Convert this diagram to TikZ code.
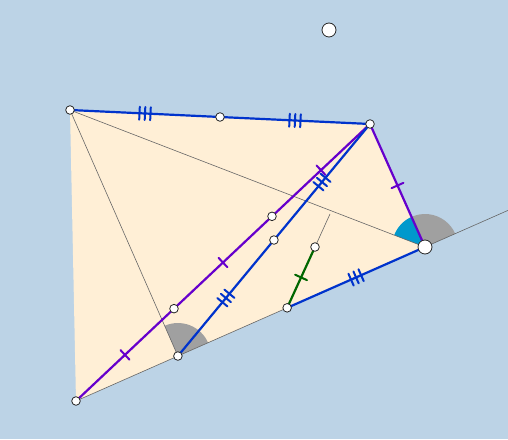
\documentclass[tikz,border=0pt]{standalone}
\usetikzlibrary{calc,decorations.markings}
\definecolor{sky}{RGB}{188,211,230}
\definecolor{paper}{RGB}{255,239,214}
\definecolor{segblue}{RGB}{0,51,204}
\definecolor{segviolet}{RGB}{102,0,204}
\definecolor{seggreen}{RGB}{0,102,0}
\definecolor{anglecyan}{RGB}{0,153,204}
\definecolor{anglegray}{RGB}{160,160,160}
\tikzset{
  side/.style={line width=2.2pt,line cap=round},
  guide/.style={black!60,line width=.6pt},
  dot/.style={fill=white,draw=black!85,line width=.8pt},
  tickone/.style={postaction={decorate,decoration={markings,
    mark=at position .5 with {\draw[line width=2pt] (0,-6.5pt) -- (0,6.5pt);}}}},
  tickthree/.style={postaction={decorate,decoration={markings,
    mark=at position .5 with {\foreach \s in {-5.5,0,5.5}
      \draw[line width=2pt] (\s pt,-6.5pt) -- (\s pt,6.5pt);}}}},
}
% sector: colour, vertex, first arm, second arm
\newcommand{\sector}[4]{%
  \fill[#1] let \p1=($(#3)-(#2)$), \p2=($(#4)-(#2)$),
    \n1={atan2(\y1,\x1)}, \n2={atan2(\y2,\x2)} in
    (#2) -- +(\n1:33pt) arc[start angle=\n1,end angle=\n2,radius=33pt] -- cycle;
}

\begin{document}
\begin{tikzpicture}[x=1pt,y=1pt]
  \fill[sky] (0,0) rectangle (508,439);
  \useasboundingbox (0,0) rectangle (508,439);
  \clip (0,0) rectangle (508,439);

  \coordinate (A)  at (70,329);
  \coordinate (B)  at (370,315);
  \coordinate (C)  at (425,192);
  \coordinate (D)  at (76,38);
  \coordinate (P)  at (329,409);
  \coordinate (M)  at ($(A)!.5!(B)$);
  \coordinate (E)  at ($(D)!.292!(C)$);
  \coordinate (F)  at ($(D)!.605!(C)$);
  \coordinate (Cx) at ($(D)!1.3!(C)$);
  \coordinate (T1) at ($(D)!1/3!(B)$);
  \coordinate (T2) at ($(D)!2/3!(B)$);
  \coordinate (N)  at ($(E)!.5!(B)$);
  \coordinate (G)  at (315,192);
  \coordinate (H)  at (330,225);

  % QUADRILATERAL
  \fill[paper] (A) -- (B) -- (C) -- (D) -- cycle;

  % ANGLES
  \sector{anglegray}{E}{C}{A}
  \sector{anglegray}{C}{Cx}{B}
  \sector{anglecyan}{C}{B}{A}

  % GUIDES
  \draw[guide] (A) -- (C);
  \draw[guide] (A) -- (E);
  \draw[guide] (D) -- (Cx);
  \draw[guide] (G) -- (H);

  % SIDES
  \draw[side,segblue,tickthree] (A) -- (M);
  \draw[side,segblue,tickthree] (M) -- (B);
  \draw[side,segviolet,tickone] (B) -- (C);
  \draw[side,segviolet,tickone] (D) -- (T1);
  \draw[side,segviolet,tickone] (T1) -- (T2);
  \draw[side,segviolet,tickone] (T2) -- (B);
  \draw[side,segblue,tickthree] (E) -- (N);
  \draw[side,segblue,tickthree] (N) -- (B);
  \draw[side,segblue,tickthree] (F) -- (C);
  \draw[side,seggreen,tickone] (F) -- (G);

  % POINTS
  \foreach \q in {A,M,B,D,E,F,G,T1,T2,N}
    \draw[dot] (\q) circle (4.3pt);
  \draw[dot] (C) circle (7pt);
  \draw[dot] (P) circle (7pt);
\end{tikzpicture}
\end{document}
